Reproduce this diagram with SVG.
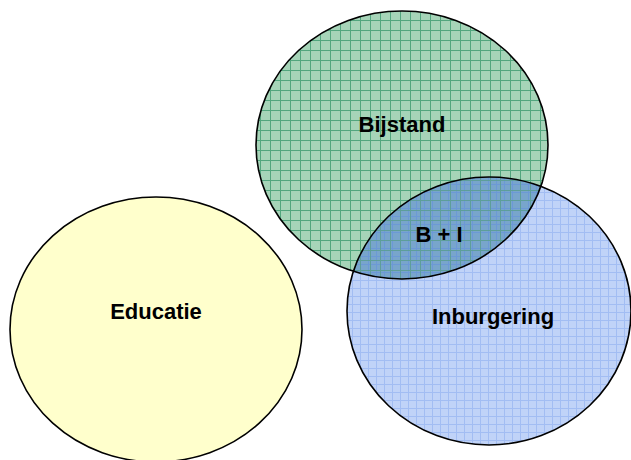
<svg xmlns="http://www.w3.org/2000/svg" width="631" height="460" viewBox="0 0 631 460">
<style>
.lbl{font-family:"Liberation Sans",Arial,sans-serif;font-weight:bold;font-size:22px;fill:#000;text-anchor:middle}
.out{fill:none;stroke:#000;stroke-width:1.6}
</style>
<defs>
<pattern id="pg" patternUnits="userSpaceOnUse" x="0" y="0" width="10" height="10">
<rect width="10" height="10" fill="#a6d4b8"/>
<rect x="0" y="0" width="10" height="1" fill="#52a67e"/>
<rect x="0" y="0" width="1" height="10" fill="#52a67e"/>
</pattern>
<pattern id="pb" patternUnits="userSpaceOnUse" x="0" y="0" width="8" height="8">
<rect width="8" height="8" fill="#c0d3f8"/>
<rect x="0" y="0" width="8" height="1" fill="#a2bdf3"/>
<rect x="0" y="0" width="1" height="8" fill="#a2bdf3"/>
</pattern>
<pattern id="po" patternUnits="userSpaceOnUse" x="0" y="0" width="8" height="8">
<rect width="8" height="8" fill="#78a5cc"/>
<rect x="0" y="0" width="8" height="1" fill="#6c99d6"/>
<rect x="0" y="0" width="1" height="8" fill="#6c99d6"/>
</pattern>
<pattern id="pgl" patternUnits="userSpaceOnUse" x="0" y="0" width="10" height="10">
<rect x="0" y="0" width="10" height="1" fill="#5d9e9a"/>
<rect x="0" y="0" width="1" height="10" fill="#5d9e9a"/>
</pattern>
<clipPath id="cg"><ellipse cx="402" cy="145" rx="146" ry="134"/></clipPath>
</defs>
<g id="educatie">
<ellipse cx="156" cy="329.5" rx="146" ry="132.5" class="out" style="fill:#ffffcc"/>
<text class="lbl" x="156" y="319">Educatie</text>
</g>
<g id="bijstand">
<ellipse cx="402" cy="145" rx="146" ry="134" fill="url(#pg)"/>
<text class="lbl" x="402" y="131.5">Bijstand</text>
</g>
<g id="inburgering">
<ellipse cx="489" cy="311" rx="142" ry="134" fill="url(#pb)"/>
<text class="lbl" x="493" y="324">Inburgering</text>
</g>
<g id="overlap">
<g clip-path="url(#cg)">
<ellipse cx="489" cy="311" rx="142" ry="134" fill="url(#po)"/>
<ellipse cx="489" cy="311" rx="142" ry="134" fill="url(#pgl)"/>
</g>
<text class="lbl" x="439" y="242">B + I</text>
</g>
<g id="outlines">
<ellipse cx="402" cy="145" rx="146" ry="134" class="out"/>
<ellipse cx="489" cy="311" rx="142" ry="134" class="out"/>
</g>
</svg>
